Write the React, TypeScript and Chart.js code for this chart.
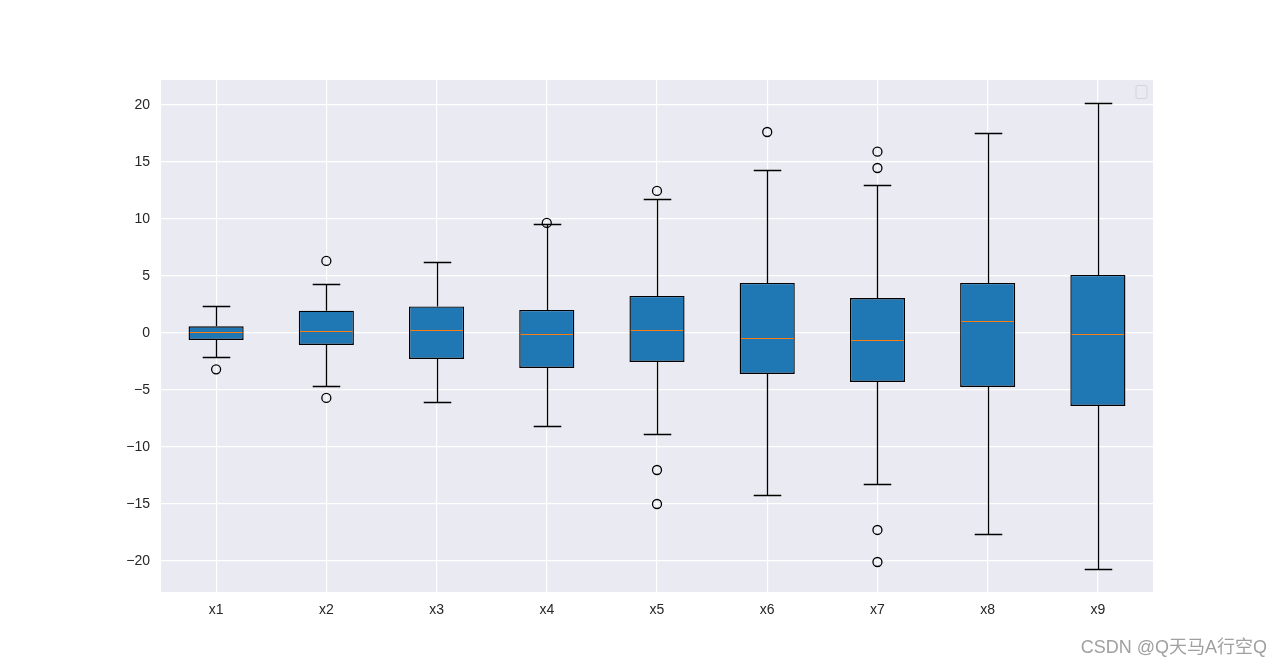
import React, { useEffect, useRef } from "react";
import { Chart, registerables } from "chart.js";

Chart.register(...registerables);

const categories = ["x1", "x2", "x3", "x4", "x5", "x6", "x7", "x8", "x9"];
const q1 = [-0.61, -1.05, -2.28, -3.07, -2.54, -3.6, -4.3, -4.74, -6.4];
const q3 = [0.58, 1.96, 2.33, 2.02, 3.25, 4.39, 3.07, 4.39, 5.09];
const medians = [0.09, 0.17, 0.29, -0.09, 0.26, -0.44, -0.61, 1.08, -0.09];
const whiskerLow = [-2.1, -4.65, -6.03, -8.16, -8.86, -14.18, -13.25, -17.6, -20.67];
const whiskerHigh = [2.37, 4.3, 6.23, 9.56, 11.78, 14.3, 12.98, 17.57, 20.18];
const outliers: number[][] = [
  [-3.19],
  [6.32, -5.7],
  [],
  [9.65],
  [12.46, -12.02, -15.0],
  [17.63],
  [15.9, 14.47, -17.28, -20.09],
  [],
  [],
];
const yTicks = [-20, -15, -10, -5, 0, 5, 10, 15, 20];
const yMin = -22.72;
const yMax = 22.19;
const watermark = "CSDN @Q天马A行空Q";

const FONT = "'Liberation Sans', Arial, 'DejaVu Sans', sans-serif";

export default function App() {
  const ref = useRef<HTMLCanvasElement | null>(null);

  useEffect(() => {
    document.body.style.margin = "0";
    const canvas = ref.current;
    if (!canvas) return;

    const boxPlugin = {
      id: "boxParts",
      beforeDraw(chart: any) {
        const { ctx, chartArea } = chart;
        ctx.save();
        ctx.fillStyle = "#ffffff";
        ctx.fillRect(0, 0, chart.width, chart.height);
        ctx.fillStyle = "#EAEAF2";
        ctx.fillRect(chartArea.left, chartArea.top, chartArea.right - chartArea.left, chartArea.bottom - chartArea.top);
        ctx.restore();
      },
      beforeDatasetsDraw(chart: any) {
        const { ctx } = chart;
        const ys = chart.scales.y;
        const meta = chart.getDatasetMeta(0);
        ctx.save();
        ctx.strokeStyle = "#000000";
        ctx.lineWidth = 1.3;
        categories.forEach((_, i) => {
          const bar = meta.data[i];
          const x = Math.round(bar.x) + 0.5;
          const cap = bar.width / 4;
          const yq1 = ys.getPixelForValue(q1[i]);
          const yq3 = ys.getPixelForValue(q3[i]);
          const ylo = Math.round(ys.getPixelForValue(whiskerLow[i])) + 0.5;
          const yhi = Math.round(ys.getPixelForValue(whiskerHigh[i])) + 0.5;
          ctx.beginPath();
          ctx.moveTo(x, yq3);
          ctx.lineTo(x, yhi);
          ctx.moveTo(x, yq1);
          ctx.lineTo(x, ylo);
          ctx.moveTo(x - cap, yhi);
          ctx.lineTo(x + cap, yhi);
          ctx.moveTo(x - cap, ylo);
          ctx.lineTo(x + cap, ylo);
          ctx.stroke();
        });
        ctx.restore();
      },
      afterDatasetsDraw(chart: any) {
        const { ctx } = chart;
        const ys = chart.scales.y;
        const meta = chart.getDatasetMeta(0);
        ctx.save();
        ctx.strokeStyle = "#ff7f0e";
        ctx.lineWidth = 1.2;
        categories.forEach((_, i) => {
          const bar = meta.data[i];
          const half = bar.width / 2;
          const ym = Math.round(ys.getPixelForValue(medians[i])) + 0.5;
          ctx.beginPath();
          ctx.moveTo(bar.x - half + 1.3, ym);
          ctx.lineTo(bar.x + half - 1.3, ym);
          ctx.stroke();
        });
        // empty legend frame
        const ca = chart.chartArea;
        const lx = ca.right - 17;
        const ly = ca.top + 5.5;
        const w = 11;
        const h = 13;
        const r = 2;
        ctx.beginPath();
        ctx.moveTo(lx + r, ly);
        ctx.lineTo(lx + w - r, ly);
        ctx.quadraticCurveTo(lx + w, ly, lx + w, ly + r);
        ctx.lineTo(lx + w, ly + h - r);
        ctx.quadraticCurveTo(lx + w, ly + h, lx + w - r, ly + h);
        ctx.lineTo(lx + r, ly + h);
        ctx.quadraticCurveTo(lx, ly + h, lx, ly + h - r);
        ctx.lineTo(lx, ly + r);
        ctx.quadraticCurveTo(lx, ly, lx + r, ly);
        ctx.closePath();
        ctx.fillStyle = "rgba(234,234,242,0.8)";
        ctx.fill();
        ctx.lineWidth = 1;
        ctx.strokeStyle = "#d3d3d8";
        ctx.stroke();
        ctx.restore();
      },
      afterDraw(chart: any) {
        const { ctx } = chart;
        ctx.save();
        ctx.font = `18px 'Liberation Sans', Arial, 'Noto Sans CJK SC', sans-serif`;
        ctx.textAlign = "right";
        ctx.textBaseline = "alphabetic";
        ctx.lineWidth = 3;
        ctx.strokeStyle = "rgba(255,255,255,0.9)";
        ctx.strokeText(watermark, 1267, 653);
        ctx.fillStyle = "#a0a0a0";
        ctx.fillText(watermark, 1267, 653);
        ctx.restore();
      },
    };

    const outlierData: { x: string; y: number }[] = [];
    outliers.forEach((arr, i) => arr.forEach((v) => outlierData.push({ x: categories[i], y: v })));

    const chart = new Chart(canvas, {
      type: "bar",
      data: {
        labels: categories,
        datasets: [
          {
            type: "bar",
            data: categories.map((_, i) => [q1[i], q3[i]]) as any,
            backgroundColor: "#1f77b4",
            borderColor: "#000000",
            borderWidth: 1.4,
            borderSkipped: false,
            barPercentage: 0.5,
            categoryPercentage: 1.0,
          } as any,
          {
            type: "scatter",
            data: outlierData as any,
            backgroundColor: "rgba(0,0,0,0)",
            borderColor: "#000000",
            borderWidth: 1.3,
            pointRadius: 4.5,
            pointHoverRadius: 4.5,
            showLine: false,
          } as any,
        ],
      },
      options: {
        responsive: false,
        animation: false,
        layout: { padding: { left: 0, top: 80, right: 129, bottom: 0 } },
        plugins: {
          legend: { display: false },
          tooltip: { enabled: false },
          title: { display: false },
        },
        scales: {
          x: {
            type: "category",
            offset: true,
            grid: { color: "#ffffff", lineWidth: 1.2, offset: false, drawTicks: false },
            border: { display: false },
            ticks: { color: "#262626", font: { family: FONT, size: 14 }, padding: 10 },
            afterFit(scale: any) {
              scale.height = 74;
            },
          },
          y: {
            type: "linear",
            min: yMin,
            max: yMax,
            grid: { color: "#ffffff", lineWidth: 1.2, drawTicks: false },
            border: { display: false },
            ticks: {
              color: "#262626",
              font: { family: FONT, size: 14 },
              padding: 11,
              callback: (v: any) => (Number(v) < 0 ? "\u2212" + Math.abs(Number(v)) : String(v)),
            },
            afterBuildTicks(scale: any) {
              scale.ticks = yTicks.map((v) => ({ value: v }));
            },
            afterFit(scale: any) {
              scale.width = 161;
            },
          },
        },
      } as any,
      plugins: [boxPlugin],
    });

    return () => chart.destroy();
  }, []);

  return (
    <div style={{ width: 1282, height: 666 }}>
      <canvas ref={ref} width={1282} height={666} style={{ display: "block" }} />
    </div>
  );
}
